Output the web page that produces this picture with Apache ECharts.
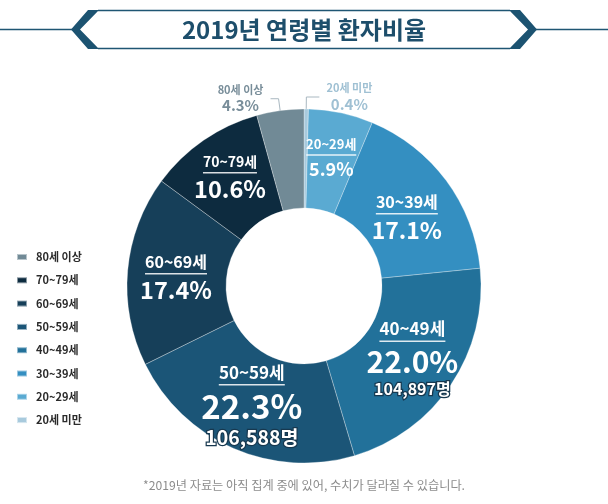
<!DOCTYPE html>
<html>
<head>
<meta charset="utf-8">
<script src="https://cdn.jsdelivr.net/npm/echarts@6/dist/echarts.min.js"></script>
<style>
  html, body { margin: 0; padding: 0; background: #fff; }
  #AgeShare { width: 608px; height: 504px; }
</style>
</head>
<body>
<div id="AgeShare"></div>
<script>
// 데이터
const ageGroups = ['20세 미만', '20~29세', '30~39세', '40~49세', '50~59세', '60~69세', '70~79세', '80세 이상'];
const shares = [0.4, 5.9, 17.1, 22.0, 22.3, 17.4, 10.6, 4.3];
const headcounts = [null, null, null, 104897, 106588, null, null, null];
const legendOrder = ageGroups.slice().reverse();

const colors = ['#a8cadd', '#5aaad2', '#348fc1', '#22719a', '#1b5577', '#163f59', '#0d2b3f', '#718a96'];

// 라벨 글자 크기 (이름, 퍼센트, 인원)
const labelSizes = {
  '20~29세': [13, 18, 0],
  '30~39세': [16, 23, 0],
  '40~49세': [17, 30, 16],
  '50~59세': [17, 33, 19.5],
  '60~69세': [16, 23.5, 0],
  '70~79세': [14, 23.5, 0]
};
// 라벨 위치 미세조정
const labelNudge = { '30~39세': [-2, 10], '60~69세': [2, 4] };
const outsideColors = { '20세 미만': '#9fc0d3', '80세 이상': '#788d99' };
const outsideLine2 = { '20세 미만': 13, '80세 이상': 8 };

const FONT = '"Noto Sans CJK KR", "Noto Sans", sans-serif';
const ctx = document.createElement('canvas').getContext('2d');
function textWidth(str, size) {
  ctx.font = 'bold ' + size + 'px ' + FONT;
  return Math.round(ctx.measureText(str).width);
}

function buildItem(name, i) {
  const pct = shares[i].toFixed(1) + '%';
  const item = { name: name, value: shares[i], itemStyle: { color: colors[i] } };
  if (outsideColors[name]) {
    const c = outsideColors[name];
    item.label = {
      position: 'outside',
      formatter: '{a|' + name + '}\n{b|' + pct + '}',
      rich: {
        a: { fontSize: 11, fontWeight: 'bold', color: c, fontFamily: FONT, width: 50, align: 'center', lineHeight: 14 },
        b: { fontSize: 15, fontWeight: 'bold', color: c, fontFamily: FONT, width: 50, align: 'center', lineHeight: 18 }
      }
    };
    item.labelLine = { show: true, length: 12, length2: outsideLine2[name], lineStyle: { color: '#a9b8c1', width: 1 } };
    return item;
  }
  const s = labelSizes[name];
  let fmt = '{n|' + name + '}\n{u| }\n{p|' + pct + '}';
  if (headcounts[i]) fmt += '\n{c|' + headcounts[i].toLocaleString('en-US') + '명}';
  item.label = {
    position: 'inside',
    offset: labelNudge[name] || [0, 0],
    formatter: fmt,
    rich: {
      n: { fontSize: s[0], fontWeight: 'bold', color: '#fff', fontFamily: FONT, lineHeight: s[0] + 4 },
      u: { fontSize: 1, width: textWidth(name, s[0]), height: 1.5, lineHeight: 4, backgroundColor: 'rgba(255,255,255,0.85)' },
      p: { fontSize: s[1], fontWeight: 'bold', color: '#fff', fontFamily: FONT, lineHeight: s[1] + 6 },
      c: { fontSize: s[2] || 14, fontWeight: 'bold', color: '#fff', fontFamily: FONT, lineHeight: (s[2] || 14) + 4,
           textBorderColor: '#17384f', textBorderWidth: 2.5 }
    }
  };
  return item;
}

const pieData = ageGroups.map(buildItem);

const myChart = echarts.init(document.getElementById('AgeShare'));
const option = {
  animation: false,
  backgroundColor: '#fff',
  color: colors,
  title: {
    text: '2019년 연령별 환자비율',
    left: 'center',
    top: 17,
    padding: 0,
    textStyle: { fontSize: 24, fontWeight: 'bold', color: '#1d4e6b', fontFamily: FONT, lineHeight: 26 }
  },
  legend: {
    orient: 'vertical',
    left: 16,
    top: 250,
    padding: 0,
    data: legendOrder,
    icon: 'rect',
    itemWidth: 10,
    itemHeight: 6,
    itemGap: 9.3,
    textStyle: { fontSize: 11, fontWeight: 'bold', color: '#2b2b2b', fontFamily: FONT, lineHeight: 14, padding: [0, 0, 0, 4] }
  },
  graphic: [
    // 제목 장식
    { type: 'line', shape: { x1: 0, y1: 29.5, x2: 72, y2: 29.5 }, style: { stroke: '#1f5673', lineWidth: 1.5 } },
    { type: 'line', shape: { x1: 536, y1: 29.5, x2: 608, y2: 29.5 }, style: { stroke: '#1f5673', lineWidth: 1.5 } },
    { type: 'line', shape: { x1: 98, y1: 10.5, x2: 510, y2: 10.5 }, style: { stroke: '#1f5673', lineWidth: 1.5 } },
    { type: 'line', shape: { x1: 98, y1: 48.5, x2: 510, y2: 48.5 }, style: { stroke: '#1f5673', lineWidth: 1.5 } },
    { type: 'polygon', shape: { points: [[88, 10], [99, 10], [80, 29.5], [99, 49], [88, 49], [71, 29.5]] }, style: { fill: '#1c5371' } },
    { type: 'polygon', shape: { points: [[520, 10], [509, 10], [528, 29.5], [509, 49], [520, 49], [537, 29.5]] }, style: { fill: '#1c5371' } },
    // 각주
    { type: 'text', x: 304, y: 485,
      style: { text: '*2019년 자료는 아직 집계 중에 있어, 수치가 달라질 수 있습니다.', align: 'center', verticalAlign: 'middle',
               fontSize: 12.2, fill: '#8c8c8c', fontFamily: FONT } }
  ],
  series: [
    {
      type: 'pie',
      center: [304, 286],
      radius: [78, 177],
      startAngle: 90,
      clockwise: true,
      avoidLabelOverlap: false,
      itemStyle: { borderColor: 'rgba(255,255,255,0.5)', borderWidth: 0.6 },
      label: { show: true, position: 'inside' },
      labelLine: { show: false },
      emphasis: { disabled: true },
      data: pieData
    }
  ]
};
myChart.setOption(option);
</script>
</body>
</html>
